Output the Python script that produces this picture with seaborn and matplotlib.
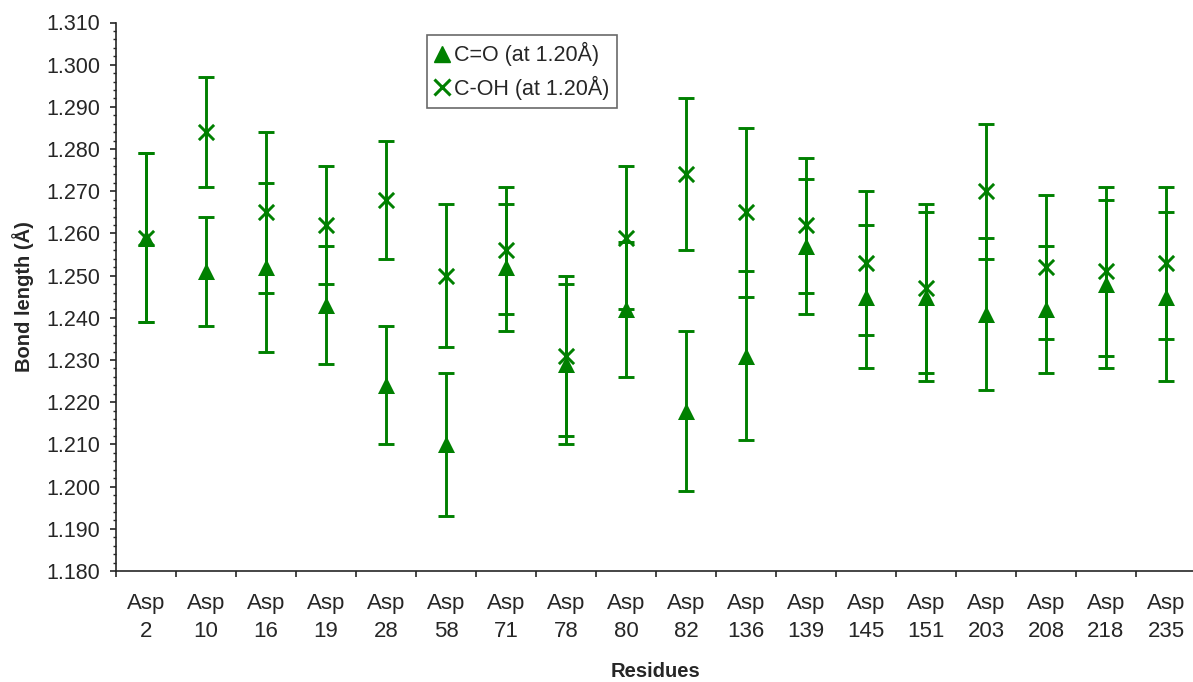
import numpy as np
import pandas as pd
import seaborn as sns
import matplotlib.pyplot as plt
from matplotlib.lines import Line2D
from matplotlib.ticker import MultipleLocator, FixedLocator, FormatStrFormatter

# valores
residuos = ["2", "10", "16", "19", "28", "58", "71", "78", "80",
            "82", "136", "139", "145", "151", "203", "208", "218", "235"]
co_valor = [1.259, 1.251, 1.252, 1.243, 1.224, 1.210, 1.252, 1.229, 1.242,
            1.218, 1.231, 1.257, 1.245, 1.245, 1.241, 1.242, 1.248, 1.245]
co_erro = [0.020, 0.013, 0.020, 0.014, 0.014, 0.017, 0.015, 0.019, 0.016,
           0.019, 0.020, 0.016, 0.017, 0.020, 0.018, 0.015, 0.020, 0.020]
coh_valor = [1.259, 1.284, 1.265, 1.262, 1.268, 1.250, 1.256, 1.231, 1.259,
             1.274, 1.265, 1.262, 1.253, 1.247, 1.270, 1.252, 1.251, 1.253]
coh_erro = [0.020, 0.013, 0.019, 0.014, 0.014, 0.017, 0.015, 0.019, 0.017,
            0.018, 0.020, 0.016, 0.017, 0.020, 0.016, 0.017, 0.020, 0.018]

rotulo_co = "C=O (at 1.20Å)"
rotulo_coh = "C-OH (at 1.20Å)"
verde = "#008000"

sns.set_style("ticks")
plt.rcParams['font.family'] = ['Liberation Sans', 'DejaVu Sans']

pos = np.arange(len(residuos))
df = pd.DataFrame({
    'pos': np.concatenate([pos, pos]),
    'valor': co_valor + coh_valor,
    'erro': co_erro + coh_erro,
    'ligacao': [rotulo_co] * len(pos) + [rotulo_coh] * len(pos),
})

fig = plt.figure(figsize=(11.93, 6.82), dpi=100)
ax = fig.add_axes([116 / 1193, 111 / 682, 1080 / 1193, 548.5 / 682])

for lig in [rotulo_co, rotulo_coh]:
    sub = df[df['ligacao'] == lig]
    ax.errorbar(sub['pos'], sub['valor'], yerr=sub['erro'], fmt='none',
                ecolor=verde, elinewidth=2.1, capsize=6, capthick=2.1, zorder=2)

# triângulos (preenchidos) e xis (traço) não podem ir no mesmo scatterplot
sns.scatterplot(data=df[df['ligacao'] == rotulo_co], x='pos', y='valor',
                marker='^', color=verde, s=150, linewidth=0,
                legend=False, ax=ax, zorder=3)
sns.scatterplot(data=df[df['ligacao'] == rotulo_coh], x='pos', y='valor',
                marker='x', color=verde, s=120, linewidth=2.1,
                legend=False, ax=ax, zorder=3)

ax.set_xlim(-0.5, len(residuos) - 0.5)
ax.set_ylim(1.180, 1.310)
ax.yaxis.set_major_locator(MultipleLocator(0.010))
ax.yaxis.set_minor_locator(MultipleLocator(0.002))
ax.yaxis.set_major_formatter(FormatStrFormatter('%.3f'))

ax.xaxis.set_major_locator(FixedLocator(pos))
ax.set_xticklabels([f"Asp\n{r}" for r in residuos], linespacing=1.45)
ax.xaxis.set_minor_locator(FixedLocator(np.arange(len(residuos) + 1) - 0.5))
ax.tick_params(axis='x', which='major', length=0, pad=16, labelsize=16)
ax.tick_params(axis='x', which='minor', length=4.5, width=1.2)
ax.tick_params(axis='y', which='major', length=4.5, width=1.2, pad=7, labelsize=15.5)
ax.tick_params(axis='y', which='minor', length=2.5, width=1)

sns.despine(ax=ax)
ax.spines['left'].set_linewidth(1.2)
ax.spines['bottom'].set_linewidth(1.2)

ax.set_xlabel("Residues", fontsize=14.5, fontweight='bold', labelpad=14)
ax.set_ylabel("Bond length (Å)", fontsize=14.5, fontweight='bold', labelpad=8.5)

alcas = [
    Line2D([], [], marker='^', color=verde, linestyle='none', markersize=12),
    Line2D([], [], marker='x', color=verde, linestyle='none', markersize=11,
           markeredgewidth=2.2),
]
leg = ax.legend(alcas, [rotulo_co, rotulo_coh], loc='upper left',
                bbox_to_anchor=((427 - 116) / 1080, 1 - 12 / 548.5),
                borderaxespad=0, fontsize=15.5,
                frameon=True, fancybox=False, handlelength=0.7,
                handletextpad=0.2, borderpad=0.35, labelspacing=0.45)
leg.get_frame().set_edgecolor('#444444')
leg.get_frame().set_linewidth(1.2)

fig.savefig("out.png", dpi=100)
